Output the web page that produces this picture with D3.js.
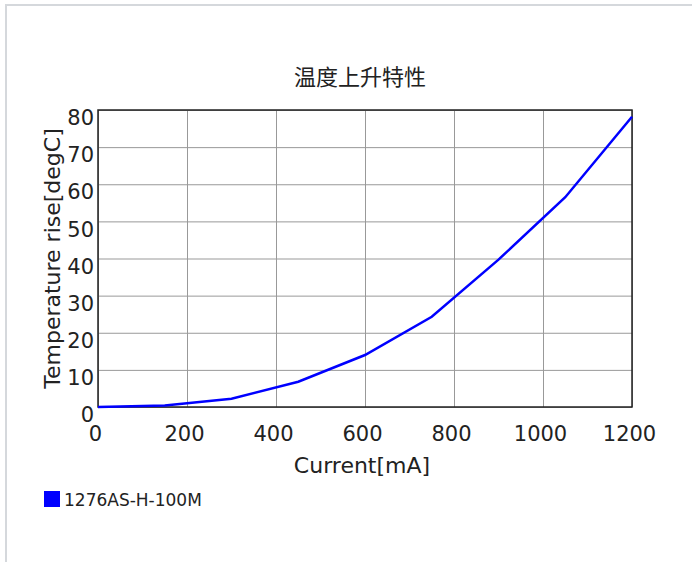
<!DOCTYPE html>
<html>
<head>
<meta charset="utf-8">
<script src="https://cdn.jsdelivr.net/npm/d3@7"></script>
<style>
  body { margin: 0; background: #fff; }
  text { font-family: "DejaVu Sans", Verdana, sans-serif; fill: #222; }
  .grid line { stroke: #999; stroke-width: 1; }
  .grid path { display: none; }
  .axis path, .axis line { display: none; }
</style>
</head>
<body>
<svg id="chart"></svg>
<script>
// data
const currents = [0, 150, 300, 450, 600, 750, 900, 1050, 1200];
const tempRise = [0, 0.4, 2.2, 6.8, 14.0, 24.3, 39.7, 56.5, 78.2];
const xTicks = [0, 200, 400, 600, 800, 1000, 1200];
const yTicks = [0, 10, 20, 30, 40, 50, 60, 70, 80];
const seriesName = '1276AS-H-100M';
const chartTitle = '温度上升特性';
const xLabel = 'Current[mA]';
const yLabel = 'Temperature rise[degC]';

const config = {
    containerWidth: 692,
    containerHeight: 562,
    margin: { top: 110, right: 60, left: 98, bottom: 155 }
};

const width = config.containerWidth - config.margin.left - config.margin.right;
const height = config.containerHeight - config.margin.top - config.margin.bottom;

const svg = d3.select('#chart')
    .attr('width', config.containerWidth)
    .attr('height', config.containerHeight);

// light outer frame
svg.append('path')
    .attr('d', `M6,${config.containerHeight} V5 H${config.containerWidth}`)
    .attr('fill', 'none')
    .attr('stroke', '#d5d8dc')
    .attr('stroke-width', 2);

const chart = svg.append('g')
    .attr('transform', `translate(${config.margin.left},${config.margin.top})`);

const xScale = d3.scaleLinear().domain([0, 1200]).range([0, width]);
const yScale = d3.scaleLinear().domain([0, 80]).range([height, 0]);

// gridlines
chart.append('g')
    .attr('class', 'grid')
    .attr('transform', `translate(0,${height})`)
    .call(d3.axisBottom(xScale).tickValues(xTicks).tickSize(-height).tickFormat(''));

chart.append('g')
    .attr('class', 'grid')
    .call(d3.axisLeft(yScale).tickValues(yTicks).tickSize(-width).tickFormat(''));

// plot frame
chart.append('rect')
    .attr('width', width)
    .attr('height', height)
    .attr('fill', 'none')
    .attr('stroke', '#222')
    .attr('stroke-width', 1.5);

// tick labels
const xAxis = chart.append('g')
    .attr('class', 'axis')
    .attr('transform', `translate(-3,${height})`)
    .call(d3.axisBottom(xScale).tickValues(xTicks).tickFormat(d3.format('d')).tickSize(0).tickPadding(19));
xAxis.selectAll('text')
    .attr('font-size', 21)
    .attr('font-family', '"DejaVu Sans", Verdana, sans-serif')
    .attr('fill', '#222');

const yAxis = chart.append('g')
    .attr('class', 'axis')
    .call(d3.axisLeft(yScale).tickValues(yTicks).tickFormat(d3.format('d')).tickSize(0).tickPadding(4));
yAxis.selectAll('text')
    .attr('font-size', 21)
    .attr('font-family', '"DejaVu Sans", Verdana, sans-serif')
    .attr('fill', '#222')
    .attr('dy', '0.7em');

// the curve
const line = d3.line()
    .x(d => xScale(d[0]))
    .y(d => yScale(d[1]));

chart.append('path')
    .datum(currents.map((c, i) => [c, tempRise[i]]))
    .attr('fill', 'none')
    .attr('stroke', '#0000ff')
    .attr('stroke-width', 2.5)
    .attr('d', line);

// titles
svg.append('text')
    .attr('x', 360)
    .attr('y', 85)
    .attr('text-anchor', 'middle')
    .attr('font-size', 22)
    .style('font-family', '"Noto Sans CJK SC", "Noto Sans CJK JP", sans-serif')
    .text(chartTitle);

svg.append('text')
    .attr('x', config.margin.left + width / 2 - 3)
    .attr('y', 473)
    .attr('text-anchor', 'middle')
    .attr('font-size', 22)
    .text(xLabel);

svg.append('text')
    .attr('transform', `translate(60,${config.margin.top + height / 2}) rotate(-90)`)
    .attr('text-anchor', 'middle')
    .attr('font-size', 22)
    .text(yLabel);

// legend
svg.append('rect')
    .attr('x', 44)
    .attr('y', 491)
    .attr('width', 16)
    .attr('height', 16)
    .attr('fill', '#0000ff');

svg.append('text')
    .attr('x', 64)
    .attr('y', 506)
    .attr('font-size', 17)
    .text(seriesName);
</script>
</body>
</html>
